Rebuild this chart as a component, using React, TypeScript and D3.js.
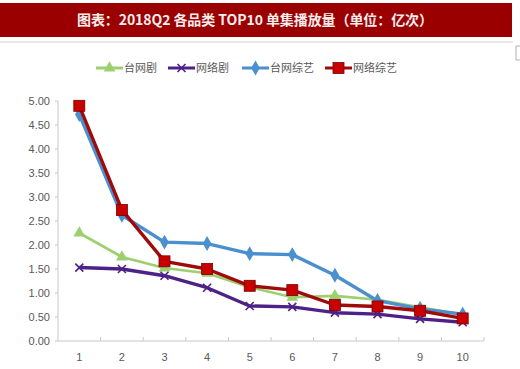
import { useEffect, useRef } from 'react';
import * as d3 from 'd3';

// --- data ---
const categories = ['1', '2', '3', '4', '5', '6', '7', '8', '9', '10'];
const taiwangju = [2.25, 1.75, 1.52, 1.41, 1.12, 0.91, 0.94, 0.86, 0.7, 0.55];
const wangluoju = [1.53, 1.5, 1.36, 1.11, 0.73, 0.71, 0.59, 0.56, 0.46, 0.39];
const taiwangzongyi = [4.72, 2.62, 2.06, 2.03, 1.82, 1.8, 1.37, 0.84, 0.67, 0.56];
const wangluozongyi = [4.9, 2.73, 1.66, 1.5, 1.15, 1.06, 0.75, 0.72, 0.63, 0.47];
const yTicks = [0, 0.5, 1, 1.5, 2, 2.5, 3, 3.5, 4, 4.5, 5];

const seriesNames = ['台网剧', '网络剧', '台网综艺', '网络综艺'];
const seriesValues = [taiwangju, wangluoju, taiwangzongyi, wangluozongyi];
const seriesColors = ['#9ccf6e', '#4d2188', '#4a8fcf', '#9e0b0b'];
const seriesWidths = [2.6, 3.4, 3.4, 3.4];
const markerKinds = ['triangle', 'cross', 'diamond', 'square'];

const TITLE = '图表：2018Q2 各品类 TOP10 单集播放量（单位：亿次）';

const drawMarker = (g, kind, x, y, color) => {
  if (kind === 'triangle') {
    g.append('path')
      .attr('d', d3.symbol(d3.symbolTriangle, 60)())
      .attr('transform', `translate(${x},${y})`)
      .attr('fill', color);
  } else if (kind === 'cross') {
    const s = 4;
    g.append('path')
      .attr('d', `M${x - s},${y - s}L${x + s},${y + s}M${x - s},${y + s}L${x + s},${y - s}`)
      .attr('stroke', color)
      .attr('stroke-width', 1.6)
      .attr('fill', 'none');
  } else if (kind === 'diamond') {
    g.append('path')
      .attr('d', d3.symbol(d3.symbolDiamond, 64)())
      .attr('transform', `translate(${x},${y})`)
      .attr('fill', color);
  } else {
    g.append('rect')
      .attr('x', x - 5.5)
      .attr('y', y - 5.5)
      .attr('width', 11)
      .attr('height', 11)
      .attr('fill', '#c80000')
      .attr('stroke', '#7a0000')
      .attr('stroke-width', 0.8);
  }
};

function App() {
  const svgRef = useRef(null);

  useEffect(() => {
    const width = 520;
    const height = 369;
    const svg = d3.select(svgRef.current);
    svg.selectAll('*').remove();
    svg.attr('width', width).attr('height', height);

    svg.append('rect').attr('width', width).attr('height', height).attr('fill', '#ffffff');

    // Title banner
    svg.append('rect')
      .attr('x', 0).attr('y', 3).attr('width', 512).attr('height', 34)
      .attr('fill', '#9a0000');
    svg.append('text')
      .attr('x', 255).attr('y', 25)
      .attr('text-anchor', 'middle')
      .style('font-family', '"Noto Sans CJK SC", sans-serif')
      .style('font-size', '14px')
      .style('font-weight', 'bold')
      .attr('fill', '#f8ecec')
      .attr('textLength', 356)
      .text(TITLE);
    svg.append('line')
      .attr('x1', 0).attr('x2', 513).attr('y1', 42).attr('y2', 42)
      .attr('stroke', '#d0d0d0');
    // small bracket at the right edge
    svg.append('path')
      .attr('d', 'M520,46H516V60H520')
      .attr('fill', 'none')
      .attr('stroke', '#b0b0b0');

    const x = d3.scaleBand().domain(categories).range([58, 484]);
    const y = d3.scaleLinear().domain([0, 5]).range([341, 101]);
    const cx = (c) => x(c) + x.bandwidth() / 2;

    const labelFont = '"Liberation Sans", Arial, sans-serif';

    // Y axis
    const yAxis = svg.append('g');
    yAxis.append('line')
      .attr('x1', 58).attr('x2', 58).attr('y1', y(5)).attr('y2', y(0))
      .attr('stroke', '#c8c8c8');
    yTicks.forEach(t => {
      yAxis.append('line')
        .attr('x1', 55).attr('x2', 58).attr('y1', y(t)).attr('y2', y(t))
        .attr('stroke', '#c8c8c8');
      yAxis.append('text')
        .attr('x', 50).attr('y', y(t) + 4)
        .attr('text-anchor', 'end')
        .style('font-family', labelFont)
        .style('font-size', '11px')
        .attr('fill', '#595959')
        .text(d3.format('.2f')(t));
    });

    // X axis
    const xAxis = svg.append('g');
    xAxis.append('line')
      .attr('x1', 58).attr('x2', 484).attr('y1', y(0)).attr('y2', y(0))
      .attr('stroke', '#c8c8c8');
    categories.forEach((c) => {
      xAxis.append('line')
        .attr('x1', x(c) + x.bandwidth()).attr('x2', x(c) + x.bandwidth())
        .attr('y1', y(0) - 4).attr('y2', y(0))
        .attr('stroke', '#c8c8c8');
      xAxis.append('text')
        .attr('x', cx(c)).attr('y', 361)
        .attr('text-anchor', 'middle')
        .style('font-family', labelFont)
        .style('font-size', '11px')
        .attr('fill', '#595959')
        .text(c);
    });

    // Lines + markers
    const line = d3.line().x((d, i) => cx(categories[i])).y(d => y(d));
    seriesValues.forEach((vals, s) => {
      const g = svg.append('g');
      g.append('path')
        .datum(vals)
        .attr('d', line)
        .attr('fill', 'none')
        .attr('stroke', seriesColors[s])
        .attr('stroke-width', seriesWidths[s])
        .attr('stroke-linejoin', 'round');
      vals.forEach((v, i) => drawMarker(g, markerKinds[s], cx(categories[i]), y(v), seriesColors[s]));
    });

    // Legend
    const legendX = [96, 168, 242, 325];
    seriesNames.forEach((name, s) => {
      const g = svg.append('g');
      const lx = legendX[s];
      g.append('line')
        .attr('x1', lx).attr('x2', lx + 27).attr('y1', 68).attr('y2', 68)
        .attr('stroke', seriesColors[s]).attr('stroke-width', 3);
      drawMarker(g, markerKinds[s], lx + 13.5, 68, seriesColors[s]);
      g.append('text')
        .attr('x', lx + 28).attr('y', 72)
        .style('font-family', '"Noto Sans CJK SC", sans-serif')
        .style('font-size', '11px')
        .attr('fill', '#595959')
        .text(name);
    });
  }, []);

  return <svg ref={svgRef} style={{ position: 'absolute', left: 0, top: 0 }}></svg>;
}

export default App;
